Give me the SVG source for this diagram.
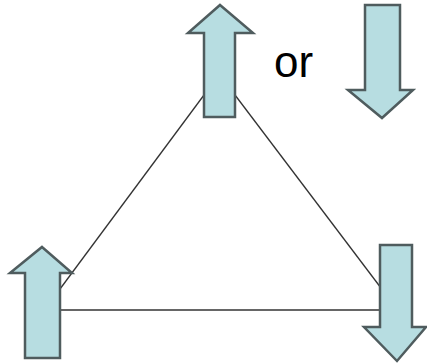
<svg xmlns="http://www.w3.org/2000/svg" width="427" height="364" viewBox="0 0 427 364">
<style>
.arrow{fill:#b7dde1;stroke:#4f5c5e;stroke-width:2.5;stroke-linejoin:miter}
.edge{stroke:#333;stroke-width:1.3;fill:none}
.lbl{font-family:"Liberation Sans",Arial,sans-serif;font-size:44px;fill:#000}
</style>
<rect width="427" height="364" fill="#fff"/>
<g id="connectors">
<line class="edge" x1="204" y1="95" x2="60" y2="289"/>
<line class="edge" x1="235" y1="95" x2="381" y2="288"/>
<line class="edge" x1="60" y1="310" x2="381" y2="310"/>
</g>
<g id="top">
<polygon class="arrow" points="220,5 253,33 235,33 235,117 204,117 204,33 188,33"/>
</g>
<g id="or-label">
<text class="lbl" x="274" y="77">or</text>
</g>
<g id="or-arrow">
<polygon class="arrow" points="365,5 400,5 400,90 413,90 382,118 348,90 365,90"/>
</g>
<g id="bottom-left">
<polygon class="arrow" points="42,247 72,273 60,273 60,358 25,358 25,273 10,273"/>
</g>
<g id="bottom-right">
<polygon class="arrow" points="380,245 412,245 412,327 426,327 397,361 364,327 380,327"/>
</g>
</svg>
